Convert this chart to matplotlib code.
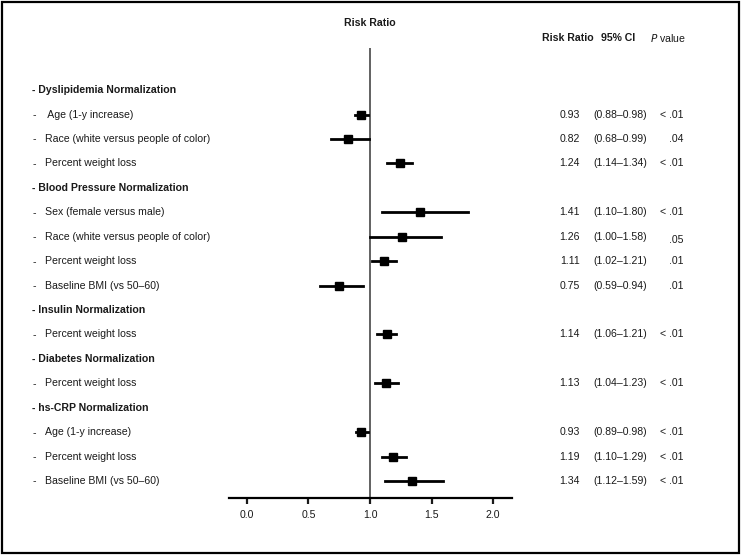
import numpy as np
import matplotlib
matplotlib.use('Agg')
import matplotlib.pyplot as plt
import matplotlib.transforms as mtransforms
from matplotlib.patches import Rectangle

plt.rcParams['font.family'] = ['Liberation Sans', 'DejaVu Sans']

# Datos del forest plot (cabeceras con nan)
labels = ['- Dyslipidemia Normalization', ' Age (1-y increase)', 'Race (white versus people of color)',
          'Percent weight loss',
          '- Blood Pressure Normalization', 'Sex (female versus male)', 'Race (white versus people of color)',
          'Percent weight loss', 'Baseline BMI (vs 50\u201360)',
          '- Insulin Normalization', 'Percent weight loss',
          '- Diabetes Normalization', 'Percent weight loss',
          '- hs-CRP Normalization', 'Age (1-y increase)', 'Percent weight loss', 'Baseline BMI (vs 50\u201360)']
is_header = [True, False, False, False, True, False, False, False, False,
             True, False, True, False, True, False, False, False]
rr = [np.nan, 0.93, 0.82, 1.24, np.nan, 1.41, 1.26, 1.11, 0.75,
      np.nan, 1.14, np.nan, 1.13, np.nan, 0.93, 1.19, 1.34]
ci_lo = [np.nan, 0.88, 0.68, 1.14, np.nan, 1.10, 1.00, 1.02, 0.59,
         np.nan, 1.06, np.nan, 1.04, np.nan, 0.89, 1.10, 1.12]
ci_hi = [np.nan, 0.98, 0.99, 1.34, np.nan, 1.80, 1.58, 1.21, 0.94,
         np.nan, 1.21, np.nan, 1.23, np.nan, 0.98, 1.29, 1.59]
p_text = ['', '< .01', '.04', '< .01', '', '< .01', '.05', '.01', '.01',
          '', '< .01', '', '< .01', '', '< .01', '< .01', '< .01']
xticks = [0.0, 0.5, 1.0, 1.5, 2.0]

W, H = 742, 556
fig = plt.figure(figsize=(W / 100, H / 100), dpi=100)
fig.patches.append(Rectangle((2 / W, 3 / H), (W - 5) / W, (H - 5) / H, transform=fig.transFigure,
                             fill=False, edgecolor='black', linewidth=1.6))

ax = fig.add_axes([229 / W, 58 / H, 283 / W, 482 / H])
n = len(labels)
y = np.arange(n)
ax.set_xlim(-0.146, 2.154)
ax.set_ylim(16.69, -3.03)

txt = '#1a1a1a'
fs = 7.6

ax.vlines(1.0, -1.72, 16.69, color='#555555', linewidth=1.3, zorder=1)
for i in range(n):
    if not is_header[i]:
        ax.plot([ci_lo[i], ci_hi[i]], [y[i], y[i]], color='black', linewidth=2.0, zorder=2)
        ax.plot(rr[i], y[i], marker='s', color='black', markersize=5.5, zorder=3)

for s in ['top', 'left', 'right']:
    ax.spines[s].set_visible(False)
ax.spines['bottom'].set_linewidth(1.6)
ax.set_yticks([])
ax.set_xticks(xticks)
ax.set_xticklabels(['%.1f' % t for t in xticks])
ax.tick_params(axis='x', direction='out', length=4, width=1.6, labelsize=fs, colors=txt, pad=4.5)

tr = mtransforms.blended_transform_factory(fig.transFigure, ax.transData)
for i in range(n):
    if is_header[i]:
        ax.text(32 / W, y[i], labels[i], transform=tr, fontsize=fs, fontweight='bold',
                color=txt, va='center', ha='left')
    else:
        ax.text(33 / W, y[i] + 0.02, '-', transform=tr, fontsize=fs, color=txt, va='center', ha='left')
        ax.text(45 / W, y[i], labels[i], transform=tr, fontsize=fs, color=txt, va='center', ha='left')
        ax.text(580 / W, y[i], '%.2f' % rr[i], transform=tr, fontsize=fs, color=txt,
                va='center', ha='right')
        ax.text(593 / W, y[i], '(%.2f\u2013%.2f)' % (ci_lo[i], ci_hi[i]), transform=tr,
                fontsize=fs, color=txt, va='center', ha='left')
        dy = 0.15 if p_text[i] == '.05' else 0.0
        ax.text(684 / W, y[i] + dy, p_text[i], transform=tr, fontsize=fs, color=txt,
                va='center', ha='right')

# cabeceras de columnas
ax.text(1.0, -2.74, 'Risk Ratio', fontsize=fs, fontweight='bold', color=txt, ha='center', va='center')
ax.text(542 / W, -2.13, 'Risk Ratio', transform=tr, fontsize=fs, fontweight='bold', color=txt,
        ha='left', va='center')
ax.text(601 / W, -2.13, '95% CI', transform=tr, fontsize=fs, fontweight='bold', color=txt,
        ha='left', va='center')
ax.text(650 / W, -2.13, r'$\it{P}$ value', transform=tr, fontsize=fs, color=txt,
        ha='left', va='center')

fig.savefig('out.png', dpi=100)
